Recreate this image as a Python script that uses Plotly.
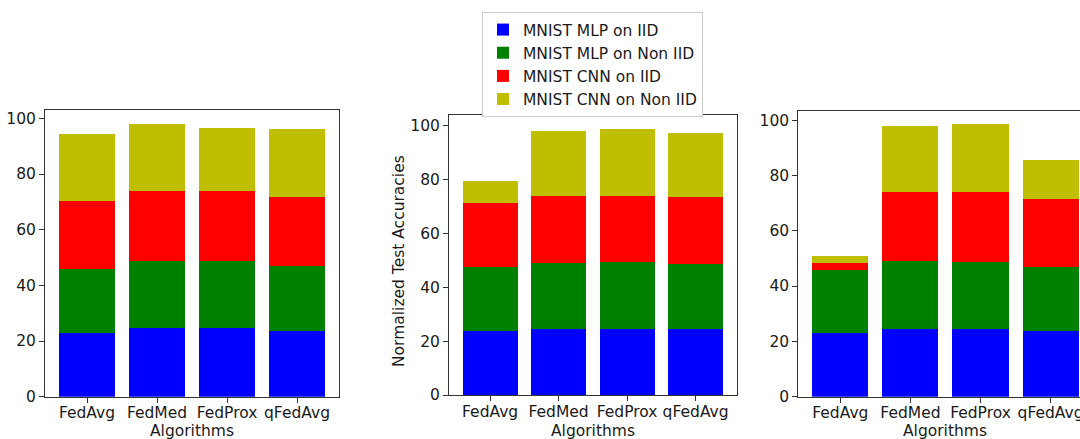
import plotly.graph_objects as go
from plotly.subplots import make_subplots

algorithms = ["FedAvg", "FedMed", "FedProx", "qFedAvg"]
series_names = ["MNIST MLP on IID", "MNIST MLP on Non IID", "MNIST CNN on IID", "MNIST CNN on Non IID"]
colors = ["#0000ff", "#008000", "#ff0000", "#bfbf00"]
x_title = "Algorithms"
y_title = "Normalized Test Accuracies"

# panel 1 segment values (stacked)
p1_mlp_iid = [22.8, 24.7, 24.7, 23.6]
p1_mlp_noniid = [22.9, 24.0, 24.0, 23.5]
p1_cnn_iid = [24.7, 25.2, 25.2, 24.8]
p1_cnn_noniid = [23.9, 24.1, 22.5, 24.1]

# panel 2
p2_mlp_iid = [23.9, 24.5, 24.5, 24.5]
p2_mlp_noniid = [23.5, 24.4, 24.9, 24.0]
p2_cnn_iid = [23.9, 25.1, 24.6, 25.1]
p2_cnn_noniid = [8.2, 24.0, 24.8, 23.7]

# panel 3
p3_mlp_iid = [22.9, 24.5, 24.5, 23.7]
p3_mlp_noniid = [22.9, 24.5, 24.3, 23.2]
p3_cnn_iid = [2.6, 24.9, 25.1, 24.7]
p3_cnn_noniid = [2.3, 23.9, 24.7, 14.1]

panels = [
    [p1_mlp_iid, p1_mlp_noniid, p1_cnn_iid, p1_cnn_noniid],
    [p2_mlp_iid, p2_mlp_noniid, p2_cnn_iid, p2_cnn_noniid],
    [p3_mlp_iid, p3_mlp_noniid, p3_cnn_iid, p3_cnn_noniid],
]

FONT = "DejaVu Sans"
TXT = "#1a1a1a"
FS = 15.5
W, H = 1080, 439
fig = make_subplots(rows=1, cols=3)

for pi, panel in enumerate(panels):
    for si, vals in enumerate(panel):
        fig.add_trace(
            go.Bar(
                x=list(range(len(algorithms))),
                y=vals,
                name=series_names[si],
                marker=dict(color=colors[si], line=dict(width=0)),
                legendgroup=series_names[si],
                showlegend=(pi == 0),
            ),
            row=1, col=pi + 1,
        )

x_domains = [[45 / W, 339 / W], [449 / W, 736.7 / W], [798.3 / W, 1.0]]
y_domains = [[1 - 396.7 / H, 1 - 110 / H], [1 - 395 / H, 1 - 115.3 / H], [1 - 396.7 / H, 1 - 110.7 / H]]
x_ranges = [[-0.6, 3.6], [-0.6, 3.6], [-0.6, 3.42]]
y_ranges = [[0, 103.0], [0, 103.85], [0, 103.4]]
x_title_centers = [192, 593, 945]

axis_color = "#333333"
for i in range(3):
    xa = "xaxis" if i == 0 else f"xaxis{i+1}"
    ya = "yaxis" if i == 0 else f"yaxis{i+1}"
    fig.update_layout({
        xa: dict(
            domain=x_domains[i], range=x_ranges[i], automargin=False,
            tickmode="array", tickvals=list(range(len(algorithms))), ticktext=algorithms,
            showline=True, linecolor=axis_color, linewidth=1, mirror=True,
            ticks="outside", ticklen=5, tickcolor=axis_color, ticklabelstandoff=-3,
            showgrid=False, zeroline=False, ticklabeloverflow="allow",
            tickfont=dict(size=FS, color=TXT, family=FONT),
        ),
        ya: dict(
            domain=y_domains[i], range=y_ranges[i], automargin=False,
            tickmode="array", tickvals=[0, 20, 40, 60, 80, 100],
            showline=True, linecolor=axis_color, linewidth=1, mirror=(i < 2),
            ticks="outside", ticklen=5, tickcolor=axis_color,
            showgrid=False, zeroline=False,
            tickfont=dict(size=FS, color=TXT, family=FONT),
        ),
    })
    fig.add_annotation(
        text=x_title, xref="paper", yref="paper",
        x=x_title_centers[i] / W, y=1 - 431 / H, xanchor="center", yanchor="middle",
        showarrow=False, font=dict(size=FS, color=TXT, family=FONT),
    )

fig.add_annotation(
    text=y_title, xref="paper", yref="paper",
    x=399 / W, y=1 - 261 / H, xanchor="center", yanchor="middle", textangle=-90,
    showarrow=False, font=dict(size=FS, color=TXT, family=FONT),
)

fig.update_layout(
    width=W, height=H,
    margin=dict(l=0, r=0, t=0, b=0),
    barmode="stack", bargap=0.2,
    plot_bgcolor="white", paper_bgcolor="white",
    font=dict(family=FONT, size=FS, color=TXT),
    legend=dict(
        x=592.5 / W, y=1 - 12 / H, xanchor="center", yanchor="top",
        bordercolor="#cccccc", borderwidth=1, bgcolor="white",
        font=dict(size=FS, family=FONT, color=TXT),
        tracegroupgap=0, itemwidth=30,
    ),
)

fig.write_html("out.html")
